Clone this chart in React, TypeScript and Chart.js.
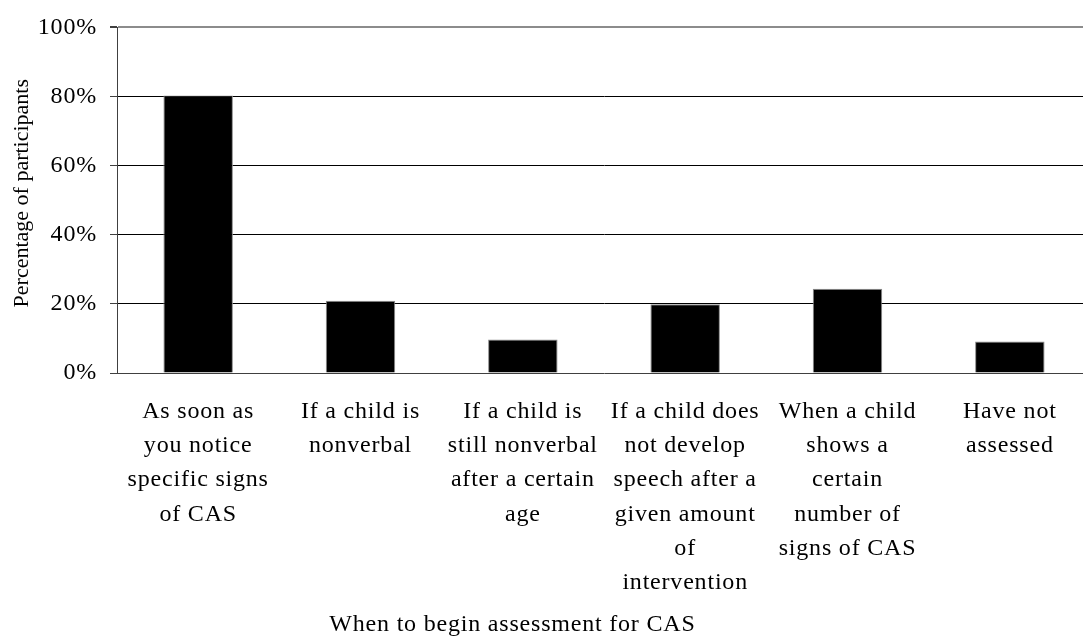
import React, { useEffect, useRef } from 'react';
import { Chart, registerables } from 'chart.js';

Chart.register(...registerables);

const categories: string[][] = [
  ['As soon as', 'you notice', 'specific signs', 'of CAS'],
  ['If a child is', 'nonverbal'],
  ['If a child is', 'still nonverbal', 'after a certain', 'age'],
  ['If a child does', 'not develop', 'speech after a', 'given amount', 'of', 'intervention'],
  ['When a child', 'shows a', 'certain', 'number of', 'signs of CAS'],
  ['Have not', 'assessed'],
];
const values: number[] = [80.3, 20.9, 9.7, 19.9, 24.4, 9.1];
const yTickValues: number[] = [0, 20, 40, 60, 80, 100];
const xTitle = 'When to begin assessment for CAS';
const yTitle = 'Percentage of participants';

const FONT = '"Liberation Serif", "Times New Roman", serif';
const SPACING = '0.8px';

export default function App() {
  const ref = useRef<HTMLCanvasElement>(null);

  useEffect(() => {
    if (!ref.current) return;

    const spacingPlugin = {
      id: 'spacing',
      beforeUpdate(c: any) { c.ctx.letterSpacing = SPACING; },
      beforeLayout(c: any) { c.ctx.letterSpacing = SPACING; },
      beforeDraw(c: any) { c.ctx.letterSpacing = SPACING; },
    };

    const titlesPlugin = {
      id: 'titles',
      afterDraw(c: any) {
        const ctx = c.ctx;
        const a = c.chartArea;
        ctx.save();
        ctx.fillStyle = '#000';
        ctx.textAlign = 'center';
        ctx.textBaseline = 'middle';
        ctx.font = `24px ${FONT}`;
        ctx.letterSpacing = SPACING;
        ctx.fillText(xTitle, a.left + (a.right - a.left) * 0.406, a.bottom + 252);
        ctx.restore();

        ctx.save();
        ctx.fillStyle = '#000';
        ctx.textAlign = 'center';
        ctx.textBaseline = 'middle';
        ctx.font = `22px ${FONT}`;
        ctx.letterSpacing = '0px';
        ctx.translate(22, (a.top + a.bottom) / 2 - 7);
        ctx.rotate(-Math.PI / 2);
        ctx.fillText(yTitle, 0, 0);
        ctx.restore();
      },
    };

    const chart = new Chart(ref.current, {
      type: 'bar',
      data: {
        labels: categories,
        datasets: [
          {
            data: values,
            backgroundColor: '#000000',
            borderColor: '#8a8a8a',
            borderWidth: 1,
            barPercentage: 0.428,
            categoryPercentage: 1,
          },
        ],
      },
      options: {
        animation: false,
        responsive: true,
        maintainAspectRatio: false,
        layout: { padding: { top: 17, right: 9, left: 0, bottom: 0 } },
        plugins: {
          legend: { display: false },
          tooltip: { enabled: false },
          title: { display: false },
        },
        scales: {
          x: {
            offset: true,
            grid: { display: false, drawTicks: false },
            border: { display: true, color: '#404040', width: 1 },
            ticks: {
              autoSkip: false,
              maxRotation: 0,
              minRotation: 0,
              padding: 22,
              color: '#000',
              font: { family: FONT, size: 24, lineHeight: 1.42 },
            },
            afterFit(s: any) { s.height = 268; },
          },
          y: {
            min: 0,
            max: 100,
            afterBuildTicks(s: any) { s.ticks = yTickValues.map((v) => ({ value: v })); },
            grid: {
              color: (ctx: any) => {
                const v = ctx.tick ? ctx.tick.value : 0;
                if (v === 100) return '#8c8c8c';
                if (v === 0) return 'rgba(0,0,0,0)';
                return '#000000';
              },
              lineWidth: (ctx: any) => (ctx.tick && ctx.tick.value === 100 ? 2 : 1),
              tickColor: '#404040',
              tickLength: 7,
              drawTicks: true,
            },
            border: { display: true, color: '#404040', width: 1 },
            ticks: {
              padding: 13,
              color: '#000',
              font: { family: FONT, size: 24 },
              callback: (v: any) => `${v}%`,
            },
            afterFit(s: any) { s.width = 117; },
          },
        },
      },
      plugins: [spacingPlugin, titlesPlugin],
    });

    return () => chart.destroy();
  }, []);

  return (
    <div
      style={{
        position: 'fixed',
        left: 0,
        top: 0,
        width: 1083,
        height: 641,
        overflow: 'hidden',
        background: '#fff',
      }}
    >
      <div style={{ width: 1100, height: 641, position: 'relative' }}>
        <canvas ref={ref} />
      </div>
    </div>
  );
}
